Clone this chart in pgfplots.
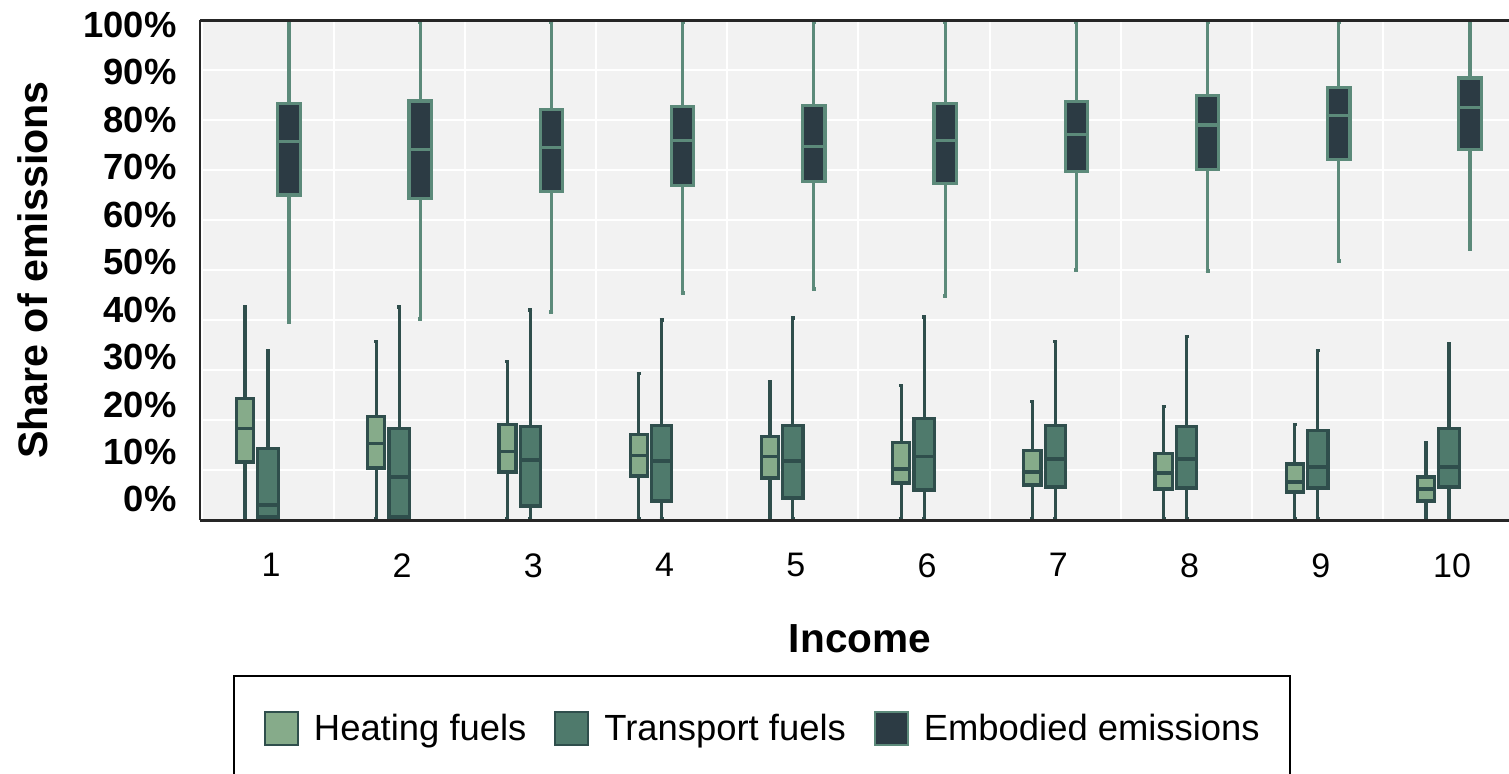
\documentclass[border=0pt]{standalone}
\usepackage{fontspec}
\setmainfont{Liberation Sans}
\usepackage{pgfplots}
\pgfplotsset{compat=1.18}
\usepgfplotslibrary{statistics}

\definecolor{bg}{HTML}{F2F2F2}
\definecolor{heatfill}{HTML}{86AB8A}
\definecolor{heatedge}{HTML}{2F4E4C}
\definecolor{transfill}{HTML}{4F7A6C}
\definecolor{embfill}{HTML}{2C3B44}
\definecolor{embedge}{HTML}{5C8A7A}

\pgfplotsset{
  heat/.style={forget plot, draw=heatedge, fill=heatfill, line width=1.6pt},
  trans/.style={forget plot, draw=heatedge, fill=transfill, line width=1.6pt},
  emb/.style={forget plot, draw=embedge, fill=embfill, line width=1.6pt},
}
% (draw position, lower whisker, lower quartile, median, upper quartile, upper whisker)
\newcommand{\HB}[6]{\addplot[heat, boxplot prepared={draw direction=y, draw position=#1, lower whisker=#2, lower quartile=#3, median=#4, upper quartile=#5, upper whisker=#6, box extend=0.13, whisker extend=0.03}] coordinates {};}
\newcommand{\TB}[6]{\addplot[trans, boxplot prepared={draw direction=y, draw position=#1, lower whisker=#2, lower quartile=#3, median=#4, upper quartile=#5, upper whisker=#6, box extend=0.155, whisker extend=0.03}] coordinates {};}
\newcommand{\EB}[6]{\addplot[emb, boxplot prepared={draw direction=y, draw position=#1, lower whisker=#2, lower quartile=#3, median=#4, upper quartile=#5, upper whisker=#6, box extend=0.17, whisker extend=0.03}] coordinates {};}

\begin{document}
\begin{tikzpicture}
\useasboundingbox (-100pt,-126.5pt) rectangle (654.5pt,260pt);
\clip (-100pt,-126.5pt) rectangle (654.5pt,260pt);
\begin{axis}[
  scale only axis,
  width=660pt, height=250pt,
  xmin=0.482, xmax=10.541,
  ymin=0, ymax=100,
  clip=false,
  axis line style={draw=none},
  axis background/.style={fill=bg},
  major tick length=0pt, minor tick length=0pt,
  xtick={1,...,10},
  minor xtick={0.5,1.5,...,10.5},
  xminorgrids=true, xmajorgrids=false,
  ytick={0,10,...,100},
  ymajorgrids=true,
  grid style={white, line width=1pt},
  minor grid style={white, line width=1pt},
  xticklabel={\pgfmathprintnumber[assume math mode=true]{\tick}},
  xticklabel style={font=\fontsize{17}{20}\selectfont, inner sep=0pt, anchor=north, yshift=-16.5pt, xshift=1.5pt},
  yticklabel={\pgfmathsetlengthmacro{\yls}{(10.5-0.1275*\tick)*1pt-6.45pt}\smash{\raisebox{\yls}{\bfseries\pgfmathprintnumber[assume math mode=true]{\tick}\%}}},
  yticklabel style={font=\fontsize{18.2}{21}\selectfont, inner sep=0pt, anchor=east, xshift=-11.5pt},
  xlabel={Income},
  xlabel style={at={(axis description cs:0.5,-0.237)}, anchor=center, font=\bfseries\fontsize{20.3}{24}\selectfont},
  ylabel={Share of emissions},
  ylabel style={at={(axis description cs:-0.1269,0.5)}, anchor=center, font=\bfseries\fontsize{20.6}{24}\selectfont},
  legend columns=3,
  legend cell align=left,
  legend style={at={(axis description cs:0.025,-0.31)}, anchor=north west,
    draw=black, line width=1pt, fill=white,
    font=\fontsize{18.2}{21}\selectfont,
    inner xsep=15pt, inner ysep=17.5pt,
    nodes={inner sep=0pt},
    /tikz/every odd column/.append style={column sep=7.5pt},
    /tikz/every even column/.append style={column sep=14pt}},
]

% Heating fuels
\HB{0.825}{0.3}{11.6}{18.3}{24.3}{42.6}
\HB{1.825}{0.3}{10.4}{15.3}{20.7}{35.7}
\HB{2.825}{0.3}{9.6}{13.7}{19.1}{31.7}
\HB{3.825}{0.3}{8.8}{12.9}{17.1}{29.3}
\HB{4.825}{0.3}{8.4}{12.7}{16.7}{27.7}
\HB{5.825}{0.3}{7.4}{10.2}{15.5}{26.9}
\HB{6.825}{0.3}{7.0}{9.6}{13.9}{23.7}
\HB{7.825}{0.3}{6.2}{9.4}{13.3}{22.7}
\HB{8.825}{0.3}{5.6}{7.6}{11.2}{19.1}
\HB{9.825}{0.3}{3.8}{6.2}{8.6}{15.5}
% Transport fuels
\TB{1}{0.3}{0.6}{3.0}{14.3}{33.9}
\TB{2}{0.3}{0.6}{8.6}{18.3}{42.6}
\TB{3}{0.3}{2.8}{12.0}{18.7}{42.0}
\TB{4}{0.3}{3.8}{11.8}{18.9}{40.0}
\TB{5}{0.3}{4.4}{11.8}{18.9}{40.4}
\TB{6}{0.3}{6.0}{12.7}{20.3}{40.6}
\TB{7}{0.3}{6.6}{12.2}{18.9}{35.7}
\TB{8}{0.3}{6.4}{12.2}{18.7}{36.7}
\TB{9}{0.3}{6.4}{10.6}{17.9}{33.9}
\TB{10}{0.3}{6.6}{10.6}{18.3}{35.3}
% Embodied emissions
\EB{1.16}{39.5}{65.0}{75.7}{83.3}{99.5}
\EB{2.16}{40.2}{64.3}{74.1}{83.8}{99.5}
\EB{3.16}{41.6}{65.7}{74.5}{82.1}{99.5}
\EB{4.16}{45.4}{66.9}{75.9}{82.7}{99.5}
\EB{5.16}{46.2}{67.7}{74.7}{82.9}{99.5}
\EB{6.16}{44.8}{67.3}{75.9}{83.3}{99.5}
\EB{7.16}{50.0}{69.7}{77.1}{83.7}{99.5}
\EB{8.16}{49.8}{70.1}{79.0}{84.9}{99.5}
\EB{9.16}{51.8}{72.1}{80.9}{86.5}{99.5}
\EB{10.16}{54.2}{74.1}{82.5}{88.4}{99.5}

\addlegendimage{legend image code/.code={\draw[draw=heatedge, fill=heatfill, line width=1pt] (0pt,-8.25pt) rectangle (16.5pt,8.25pt);}}
\addlegendentry{Heating fuels}
\addlegendimage{legend image code/.code={\draw[draw=heatedge, fill=transfill, line width=1pt] (0pt,-8.25pt) rectangle (16.5pt,8.25pt);}}
\addlegendentry{Transport fuels}
\addlegendimage{legend image code/.code={\draw[draw=embedge, fill=embfill, line width=1pt] (0pt,-8.25pt) rectangle (16.5pt,8.25pt);}}
\addlegendentry{Embodied emissions}

\draw[line width=1.5pt, black!85] (rel axis cs:0,0) -- (rel axis cs:1,0);
\draw[line width=1.5pt, black!85] (rel axis cs:0,1) -- (rel axis cs:1,1);
\draw[line width=1pt, black!85] (rel axis cs:0,0) -- (rel axis cs:0,1);
\end{axis}
\end{tikzpicture}
\end{document}
